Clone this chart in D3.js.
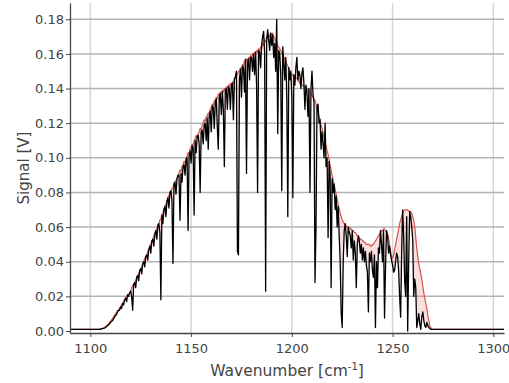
<!DOCTYPE html>
<html>
<head>
<meta charset="utf-8">
<script src="https://cdn.jsdelivr.net/npm/d3@7"></script>
<style>
  body { margin: 0; background: #fff; }
  svg { display: block; }
  text { font-family: "DejaVu Sans", Verdana, sans-serif; }
</style>
</head>
<body>
<svg id="chart" width="509" height="383"></svg>
<script>
// Spectrum sampled on a regular wavenumber grid (cm^-1)
const wnStart = 1104;
const wnStep = 0.5;
// Flat detector level outside the band
const baselineLevel = 0.001;

const xTicks = [1100, 1150, 1200, 1250, 1300];
const yTicks = [0, 0.02, 0.04, 0.06, 0.08, 0.10, 0.12, 0.14, 0.16, 0.18];

// Reference (unabsorbed) signal [V]
const reference = [
  0.001,0.001,0.0012,0.0014,0.0016,0.0018,0.002,0.0025,0.003,0.0035,
  0.004,0.005,0.0055,0.0065,0.007,0.008,0.009,0.010,0.011,0.012,
  0.012,0.013,0.014,0.015,0.016,0.017,0.018,0.019,0.020,0.021,
  0.021,0.022,0.023,0.025,0.026,0.027,0.028,0.029,0.031,0.032,
  0.033,0.035,0.036,0.037,0.039,0.040,0.042,0.043,0.044,0.046,
  0.047,0.049,0.050,0.052,0.053,0.055,0.056,0.058,0.059,0.061,
  0.062,0.064,0.065,0.067,0.068,0.070,0.072,0.073,0.075,0.077,
  0.078,0.080,0.081,0.082,0.083,0.085,0.086,0.087,0.088,0.090,
  0.091,0.093,0.092,0.095,0.096,0.098,0.097,0.100,0.101,0.103,
  0.102,0.105,0.106,0.108,0.107,0.110,0.111,0.113,0.112,0.114,
  0.115,0.117,0.116,0.119,0.120,0.122,0.121,0.124,0.124,0.126,
  0.125,0.128,0.129,0.131,0.130,0.133,0.133,0.135,0.134,0.137,
  0.136,0.138,0.137,0.139,0.138,0.140,0.139,0.141,0.140,0.142,
  0.141,0.143,0.142,0.144,0.143,0.146,0.146,0.148,0.148,0.150,
  0.150,0.152,0.151,0.154,0.153,0.156,0.155,0.157,0.156,0.158,
  0.157,0.159,0.158,0.160,0.159,0.161,0.160,0.162,0.161,0.163,
  0.162,0.164,0.163,0.166,0.165,0.168,0.167,0.170,0.169,0.171,
  0.170,0.172,0.171,0.172,0.170,0.169,0.167,0.167,0.165,0.164,
  0.163,0.162,0.160,0.160,0.158,0.157,0.156,0.154,0.153,0.152,
  0.150,0.149,0.148,0.148,0.147,0.147,0.146,0.146,0.145,0.144,
  0.143,0.143,0.142,0.142,0.141,0.141,0.140,0.140,0.139,0.139,
  0.138,0.137,0.136,0.135,0.134,0.133,0.131,0.129,0.126,0.124,
  0.122,0.119,0.117,0.114,0.112,0.109,0.107,0.104,0.102,0.099,
  0.096,0.093,0.090,0.087,0.084,0.082,0.079,0.076,0.073,0.071,
  0.068,0.066,0.064,0.063,0.062,0.061,0.061,0.060,0.060,0.060,
  0.059,0.059,0.058,0.058,0.057,0.057,0.056,0.055,0.055,0.054,
  0.053,0.053,0.052,0.052,0.051,0.051,0.050,0.050,0.050,0.050,
  0.049,0.049,0.050,0.050,0.051,0.052,0.053,0.054,0.055,0.056,
  0.057,0.058,0.058,0.059,0.059,0.058,0.057,0.056,0.054,0.050,
  0.046,0.043,0.042,0.044,0.047,0.050,0.053,0.056,0.059,0.062,
  0.064,0.066,0.068,0.069,0.070,0.070,0.070,0.070,0.069,0.069,
  0.069,0.068,0.066,0.064,0.060,0.054,0.048,0.043,0.039,0.036,
  0.033,0.030,0.026,0.022,0.019,0.016,0.013,0.009,0.006,0.003,
  0.002,0.001,0.001,0.001,0.001
];

// Measured (absorbed) signal [V]
const measured = [
  0.001,0.001,0.001,0.0012,0.0014,0.0015,0.0017,0.002,0.0025,0.003,
  0.0035,0.004,0.005,0.0055,0.006,0.007,0.008,0.009,0.0095,0.011,
  0.012,0.012,0.014,0.013,0.016,0.015,0.018,0.019,0.017,0.021,
  0.020,0.022,0.023,0.020,0.012,0.027,0.028,0.025,0.031,0.032,
  0.029,0.035,0.036,0.033,0.039,0.040,0.037,0.043,0.044,0.041,
  0.047,0.049,0.045,0.052,0.053,0.049,0.056,0.058,0.053,0.061,
  0.062,0.057,0.018,0.067,0.062,0.070,0.072,0.066,0.075,0.077,
  0.071,0.080,0.081,0.075,0.039,0.085,0.086,0.079,0.088,0.090,
  0.090,0.064,0.091,0.086,0.095,0.096,0.090,0.099,0.100,0.058,
  0.101,0.104,0.097,0.107,0.106,0.067,0.110,0.103,0.112,0.113,
  0.108,0.080,0.115,0.116,0.108,0.119,0.120,0.110,0.123,0.105,
  0.124,0.127,0.115,0.130,0.129,0.117,0.132,0.134,0.118,0.105,
  0.135,0.137,0.125,0.138,0.128,0.095,0.139,0.140,0.128,0.141,
  0.140,0.128,0.142,0.143,0.122,0.145,0.147,0.150,0.046,0.044,
  0.145,0.151,0.135,0.153,0.152,0.138,0.157,0.091,0.155,0.157,
  0.145,0.158,0.158,0.150,0.160,0.148,0.161,0.142,0.080,0.162,
  0.161,0.152,0.165,0.170,0.173,0.160,0.023,0.167,0.174,0.168,
  0.162,0.172,0.165,0.171,0.158,0.166,0.150,0.180,0.114,0.162,
  0.160,0.148,0.081,0.164,0.155,0.145,0.158,0.135,0.066,0.152,
  0.145,0.150,0.135,0.077,0.148,0.142,0.152,0.158,0.145,0.150,
  0.148,0.140,0.149,0.152,0.143,0.128,0.142,0.138,0.124,0.140,
  0.080,0.140,0.150,0.137,0.132,0.028,0.060,0.130,0.131,0.120,
  0.122,0.105,0.115,0.108,0.100,0.120,0.095,0.100,0.054,0.098,
  0.090,0.025,0.088,0.080,0.085,0.070,0.078,0.060,0.072,0.055,
  0.040,0.010,0.002,0.040,0.058,0.062,0.055,0.043,0.060,0.057,
  0.055,0.048,0.058,0.041,0.052,0.045,0.025,0.050,0.055,0.052,
  0.045,0.050,0.041,0.048,0.040,0.046,0.038,0.034,0.011,0.045,
  0.040,0.046,0.035,0.031,0.044,0.002,0.040,0.025,0.048,0.045,
  0.058,0.050,0.040,0.058,0.0075,0.037,0.058,0.055,0.045,0.049,
  0.044,0.041,0.038,0.034,0.035,0.040,0.045,0.043,0.035,0.020,
  0.008,0.045,0.070,0.055,0.029,0.020,0.066,0.000,0.040,0.069,
  0.066,0.060,0.053,0.020,0.030,0.025,0.002,0.006,0.010,0.004,
  0.001,0.008,0.011,0.006,0.003,0.002,0.005,0.003,0.002,0.0015,
  0.001,0.001,0.001,0.001,0.001
];

const svg = d3.select("#chart");
const plot = { left: 70, right: 504, top: 3, bottom: 333 };

const x = d3.scaleLinear().domain([1089.9, 1305.3]).range([plot.left, plot.right]);
const y = d3.scaleLinear().domain([-0.00115, 0.1894]).range([plot.bottom, plot.top]);

// Combine both series on the shared grid, padded with the flat baseline to the plot edges
const n = Math.min(reference.length, measured.length);
const points = [{ wn: x.domain()[0], ref: baselineLevel, meas: baselineLevel }];
for (let i = 0; i < n; i++) {
  points.push({ wn: wnStart + i * wnStep, ref: reference[i], meas: measured[i] });
}
points.push({ wn: x.domain()[1], ref: baselineLevel, meas: baselineLevel });

// Grid
const grid = svg.append("g");
grid.selectAll("line.v").data(xTicks).join("line")
  .attr("x1", d => x(d)).attr("x2", d => x(d))
  .attr("y1", plot.top).attr("y2", plot.bottom)
  .attr("stroke", "#d6d6d6").attr("stroke-width", 1.5);
grid.selectAll("line.h").data(yTicks.filter(d => d > 0)).join("line")
  .attr("x1", plot.left).attr("x2", plot.right)
  .attr("y1", d => y(d)).attr("y2", d => y(d))
  .attr("stroke", "#b3b3b3").attr("stroke-width", 1.5);

// Data
svg.append("clipPath").attr("id", "clip").append("rect")
  .attr("x", plot.left).attr("y", plot.top)
  .attr("width", plot.right - plot.left).attr("height", plot.bottom - plot.top);
const dataG = svg.append("g").attr("clip-path", "url(#clip)");

dataG.append("path").datum(points)
  .attr("fill", "rgba(230, 110, 110, 0.22)")
  .attr("d", d3.area().x(d => x(d.wn)).y0(d => y(d.meas)).y1(d => y(d.ref)));

dataG.append("path").datum(points)
  .attr("fill", "none").attr("stroke", "#d9534f").attr("stroke-width", 1.2)
  .attr("stroke-linejoin", "round")
  .attr("d", d3.line().x(d => x(d.wn)).y(d => y(d.ref)));

dataG.append("path").datum(points)
  .attr("fill", "none").attr("stroke", "#000").attr("stroke-width", 1.3)
  .attr("stroke-linejoin", "round")
  .attr("d", d3.line().x(d => x(d.wn)).y(d => y(d.meas)));

// Axes
const axisColor = "#444";
const yAxis = svg.append("g").attr("transform", `translate(${plot.left},0)`)
  .call(d3.axisLeft(y).tickValues(yTicks).tickFormat(d3.format(".2f")).tickSize(4).tickSizeOuter(0));
const xAxis = svg.append("g").attr("transform", `translate(0,${plot.bottom})`)
  .call(d3.axisBottom(x).tickValues(xTicks).tickFormat(d3.format("d")).tickSize(4).tickSizeOuter(0));
[yAxis, xAxis].forEach(g => {
  g.select(".domain").attr("stroke", axisColor).attr("stroke-width", 1.3);
  g.selectAll(".tick line").attr("stroke", axisColor);
  g.selectAll(".tick text").attr("fill", "#444").attr("font-size", 13)
    .attr("font-family", "DejaVu Sans, Verdana, sans-serif");
});
yAxis.selectAll(".tick text").attr("x", -6);
xAxis.selectAll(".tick text").attr("y", 11);

// Axis titles
svg.append("text")
  .attr("transform", `translate(24,${(plot.top + plot.bottom) / 2}) rotate(-90)`)
  .attr("text-anchor", "middle").attr("dy", "0.35em")
  .attr("font-size", 15).attr("fill", "#444")
  .text("Signal [V]");

const xt = svg.append("text")
  .attr("x", (plot.left + plot.right) / 2).attr("y", 376)
  .attr("text-anchor", "middle").attr("font-size", 15.5).attr("fill", "#444");
xt.append("tspan").text("Wavenumber [cm");
xt.append("tspan").attr("dy", -6).attr("font-size", 10).text("-1");
xt.append("tspan").attr("dy", 6).text("]");
</script>
</body>
</html>
